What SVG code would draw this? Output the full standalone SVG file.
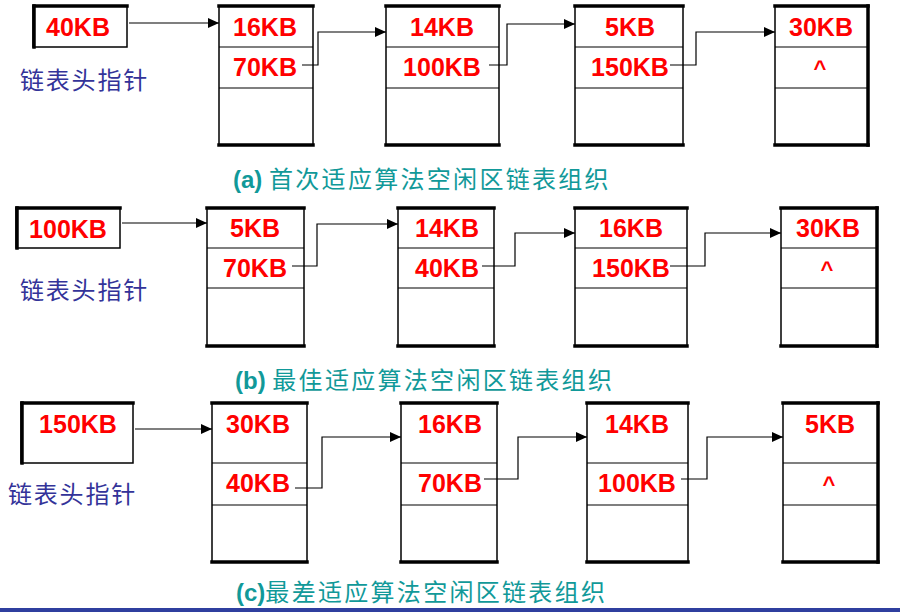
<svg xmlns="http://www.w3.org/2000/svg" width="900" height="612" viewBox="0 0 900 612">
<style>
.box{fill:#fff;stroke:#000;stroke-width:1.5}
.thk{stroke:#000;stroke-width:3.5;stroke-linecap:square}
.dv{stroke:#000;stroke-width:1.2}
.kb{font-family:"Liberation Sans",Arial,sans-serif;font-weight:bold;font-size:25px;fill:#ff0000;text-anchor:middle}
.hat{font-family:"Liberation Sans",Arial,sans-serif;font-weight:bold;font-size:22px;fill:#ff0000;text-anchor:middle}
.lbl{font-family:"Noto Sans CJK SC","Noto Sans CJK TC",sans-serif;font-size:24px;fill:#333399;letter-spacing:1.8px}
.cap{font-family:"Noto Sans CJK SC","Noto Sans CJK TC",sans-serif;font-size:24px;fill:#119999;letter-spacing:2.3px}
.capb{font-family:"Liberation Sans",Arial,sans-serif;font-weight:bold;letter-spacing:0}
.conn{fill:none;stroke:#000;stroke-width:1.2;marker-end:url(#ah)}
</style>
<defs>
<marker id="ah" markerUnits="userSpaceOnUse" markerWidth="12" markerHeight="10" refX="11" refY="5" orient="auto">
<path d="M0,0 L11,5 L0,10 Z" fill="#000"/>
</marker>
</defs>
<rect width="900" height="612" fill="#fff"/>

<!-- Row (a) -->
<g id="a-head">
<rect class="box" x="33" y="6" width="94" height="41"/>
<line class="thk" x1="34" y1="6" x2="127" y2="6"/>
<line class="thk" x1="34" y1="6" x2="34" y2="47"/>
<text class="kb" x="78" y="36">40KB</text>
</g>
<text class="lbl" x="20" y="89">链表头指针</text>
<g id="a-n1">
<rect class="box" x="219" y="6" width="94" height="139"/>
<line class="dv" x1="219" y1="47" x2="313" y2="47"/><line class="dv" x1="219" y1="88" x2="313" y2="88"/>
<line class="thk" x1="219" y1="6" x2="313" y2="6"/><line class="thk" x1="219" y1="145" x2="313" y2="145"/>
<text class="kb" x="265" y="36">16KB</text><text class="kb" x="265" y="76">70KB</text>
</g>
<g id="a-n2">
<rect class="box" x="386" y="6" width="113" height="139"/>
<line class="dv" x1="386" y1="47" x2="499" y2="47"/><line class="dv" x1="386" y1="88" x2="499" y2="88"/>
<line class="thk" x1="386" y1="6" x2="499" y2="6"/><line class="thk" x1="386" y1="145" x2="499" y2="145"/>
<text class="kb" x="442" y="36">14KB</text><text class="kb" x="442" y="76">100KB</text>
</g>
<g id="a-n3">
<rect class="box" x="575" y="6" width="108" height="139"/>
<line class="dv" x1="575" y1="47" x2="683" y2="47"/><line class="dv" x1="575" y1="88" x2="683" y2="88"/>
<line class="thk" x1="575" y1="6" x2="683" y2="6"/><line class="thk" x1="575" y1="145" x2="683" y2="145"/>
<text class="kb" x="630" y="36">5KB</text><text class="kb" x="630" y="76">150KB</text>
</g>
<g id="a-n4">
<rect class="box" x="775" y="6" width="93" height="139"/>
<line class="dv" x1="775" y1="47" x2="868" y2="47"/><line class="dv" x1="775" y1="88" x2="868" y2="88"/>
<line class="thk" x1="775" y1="6" x2="868" y2="6"/><line class="thk" x1="775" y1="145" x2="868" y2="145"/>
<line class="thk" x1="868" y1="6" x2="868" y2="145"/>
<text class="kb" x="821" y="36">30KB</text><text class="hat" x="820" y="76">^</text>
</g>
<text class="cap" x="233" y="188"><tspan class="capb">(a) </tspan>首次适应算法空闲区链表组织</text>

<!-- Row (b) -->
<g id="b-head">
<rect class="box" x="16" y="208" width="104" height="40"/>
<line class="thk" x1="17" y1="208" x2="120" y2="208"/>
<line class="thk" x1="17" y1="208" x2="17" y2="248"/>
<text class="kb" x="68" y="238">100KB</text>
</g>
<text class="lbl" x="20" y="299">链表头指针</text>
<g id="b-n1">
<rect class="box" x="207" y="208" width="97" height="138"/>
<line class="dv" x1="207" y1="248" x2="304" y2="248"/><line class="dv" x1="207" y1="288" x2="304" y2="288"/>
<line class="thk" x1="207" y1="208" x2="304" y2="208"/><line class="thk" x1="207" y1="346" x2="304" y2="346"/>
<text class="kb" x="255" y="237">5KB</text><text class="kb" x="255" y="277">70KB</text>
</g>
<g id="b-n2">
<rect class="box" x="398" y="208" width="96" height="138"/>
<line class="dv" x1="398" y1="248" x2="494" y2="248"/><line class="dv" x1="398" y1="288" x2="494" y2="288"/>
<line class="thk" x1="398" y1="208" x2="494" y2="208"/><line class="thk" x1="398" y1="346" x2="494" y2="346"/>
<text class="kb" x="447" y="237">14KB</text><text class="kb" x="447" y="277">40KB</text>
</g>
<g id="b-n3">
<rect class="box" x="575" y="208" width="112" height="138"/>
<line class="dv" x1="575" y1="248" x2="687" y2="248"/><line class="dv" x1="575" y1="288" x2="687" y2="288"/>
<line class="thk" x1="575" y1="208" x2="687" y2="208"/><line class="thk" x1="575" y1="346" x2="687" y2="346"/>
<text class="kb" x="631" y="237">16KB</text><text class="kb" x="631" y="277">150KB</text>
</g>
<g id="b-n4">
<rect class="box" x="781" y="208" width="96" height="138"/>
<line class="dv" x1="781" y1="248" x2="877" y2="248"/><line class="dv" x1="781" y1="288" x2="877" y2="288"/>
<line class="thk" x1="781" y1="208" x2="877" y2="208"/><line class="thk" x1="781" y1="346" x2="877" y2="346"/>
<line class="thk" x1="877" y1="208" x2="877" y2="346"/>
<text class="kb" x="828" y="237">30KB</text><text class="hat" x="827" y="277">^</text>
</g>
<text class="cap" x="235" y="389"><tspan class="capb">(b) </tspan>最佳适应算法空闲区链表组织</text>

<!-- Row (c) -->
<g id="c-head">
<rect class="box" x="21" y="403" width="112" height="60"/>
<line class="thk" x1="22" y1="403" x2="133" y2="403"/>
<line class="thk" x1="22" y1="403" x2="22" y2="463"/>
<text class="kb" x="78" y="433">150KB</text>
</g>
<text class="lbl" x="8" y="503">链表头指针</text>
<g id="c-n1">
<rect class="box" x="212" y="403" width="95" height="159"/>
<line class="dv" x1="212" y1="463" x2="307" y2="463"/><line class="dv" x1="212" y1="505" x2="307" y2="505"/>
<line class="thk" x1="212" y1="403" x2="307" y2="403"/><line class="thk" x1="212" y1="562" x2="307" y2="562"/>
<text class="kb" x="258" y="433">30KB</text><text class="kb" x="258" y="492">40KB</text>
</g>
<g id="c-n2">
<rect class="box" x="401" y="403" width="96" height="159"/>
<line class="dv" x1="401" y1="463" x2="497" y2="463"/><line class="dv" x1="401" y1="505" x2="497" y2="505"/>
<line class="thk" x1="401" y1="403" x2="497" y2="403"/><line class="thk" x1="401" y1="562" x2="497" y2="562"/>
<text class="kb" x="450" y="433">16KB</text><text class="kb" x="450" y="492">70KB</text>
</g>
<g id="c-n3">
<rect class="box" x="587" y="403" width="101" height="159"/>
<line class="dv" x1="587" y1="463" x2="688" y2="463"/><line class="dv" x1="587" y1="505" x2="688" y2="505"/>
<line class="thk" x1="587" y1="403" x2="688" y2="403"/><line class="thk" x1="587" y1="562" x2="688" y2="562"/>
<text class="kb" x="637" y="433">14KB</text><text class="kb" x="637" y="492">100KB</text>
</g>
<g id="c-n4">
<rect class="box" x="783" y="403" width="95" height="159"/>
<line class="dv" x1="783" y1="463" x2="878" y2="463"/><line class="dv" x1="783" y1="505" x2="878" y2="505"/>
<line class="thk" x1="783" y1="403" x2="878" y2="403"/><line class="thk" x1="783" y1="562" x2="878" y2="562"/>
<line class="thk" x1="878" y1="403" x2="878" y2="562"/>
<text class="kb" x="830" y="433">5KB</text><text class="hat" x="829" y="492">^</text>
</g>
<text class="cap" x="236" y="601"><tspan class="capb">(c)</tspan>最差适应算法空闲区链表组织</text>

<g id="connectors">
<path class="conn" d="M129,23 H219"/>
<path class="conn" d="M302,65 H318 V32 H386"/>
<path class="conn" d="M489,65 H507 V24 H575"/>
<path class="conn" d="M670,65 H696 V32 H775"/>
<path class="conn" d="M122,223 H207"/>
<path class="conn" d="M292,266 H317 V224 H398"/>
<path class="conn" d="M482,266 H515 V233 H575"/>
<path class="conn" d="M670,266 H705 V233 H781"/>
<path class="conn" d="M135,429 H212"/>
<path class="conn" d="M295,488 H322 V437 H401"/>
<path class="conn" d="M484,479 H518 V437 H587"/>
<path class="conn" d="M681,479 H707 V437 H783"/>
</g>

<rect x="0" y="608" width="900" height="4" fill="#2f3f9f"/>
</svg>
